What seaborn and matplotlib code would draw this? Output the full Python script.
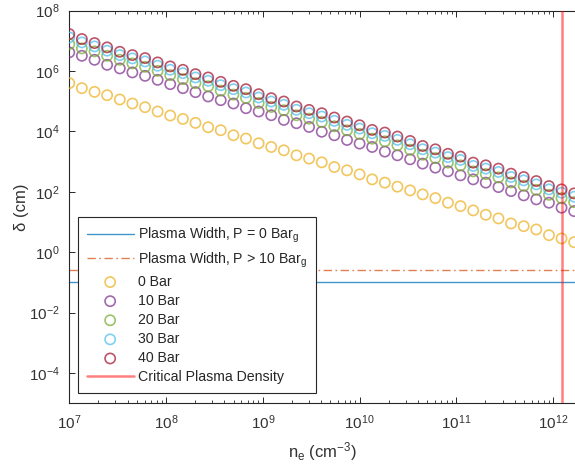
import numpy as np
import matplotlib
matplotlib.use("Agg")
import matplotlib.pyplot as plt
from matplotlib.ticker import LogLocator, NullLocator, LogFormatterSciNotation
import seaborn as sns

# electron density grid, log10(n_e / cm^-3)
log_ne = [7.000, 7.130, 7.261, 7.391, 7.522, 7.652, 7.783, 7.913, 8.043, 8.174,
          8.304, 8.435, 8.565, 8.696, 8.826, 8.957, 9.087, 9.217, 9.348, 9.478,
          9.609, 9.739, 9.870, 10.000, 10.130, 10.261, 10.391, 10.522, 10.652, 10.783,
          10.913, 11.043, 11.174, 11.304, 11.435, 11.565, 11.696, 11.826, 11.957, 12.087,
          12.217]

# log10(delta / cm) for each gas pressure
log_delta_0 = [5.595, 5.430, 5.307, 5.197, 5.055, 4.922, 4.800, 4.657, 4.524, 4.411,
               4.280, 4.136, 4.037, 3.871, 3.761, 3.605, 3.483, 3.373, 3.207, 3.098,
               2.975, 2.819, 2.710, 2.577, 2.411, 2.302, 2.169, 2.046, 1.914, 1.791,
               1.638, 1.526, 1.383, 1.240, 1.118, 0.952, 0.862, 0.753, 0.564, 0.455,
               0.332]
log_delta_10 = [6.614, 6.501, 6.368, 6.202, 6.083, 5.950, 5.837, 5.705, 5.562, 5.430,
                5.297, 5.154, 5.032, 4.922, 4.766, 4.657, 4.534, 4.378, 4.269, 4.146,
                3.987, 3.871, 3.715, 3.595, 3.483, 3.330, 3.207, 3.075, 2.932, 2.799,
                2.677, 2.544, 2.411, 2.302, 2.156, 2.023, 1.881, 1.748, 1.638, 1.473,
                1.360]
log_delta_20 = [6.889, 6.746, 6.647, 6.501, 6.368, 6.249, 6.136, 6.003, 5.861, 5.728,
                5.595, 5.494, 5.348, 5.216, 5.106, 4.940, 4.808, 4.698, 4.533, 4.420,
                4.310, 4.168, 4.035, 3.912, 3.757, 3.670, 3.538, 3.392, 3.226, 3.116,
                2.967, 2.874, 2.675, 2.586, 2.476, 2.310, 2.198, 2.065, 1.899, 1.790,
                1.657]
log_delta_30 = [7.110, 6.945, 6.812, 6.669, 6.523, 6.414, 6.314, 6.172, 6.039, 5.926,
                5.784, 5.674, 5.528, 5.396, 5.286, 5.120, 4.988, 4.878, 4.713, 4.600,
                4.490, 4.348, 4.215, 4.092, 3.937, 3.850, 3.718, 3.572, 3.406, 3.296,
                3.147, 3.054, 2.855, 2.766, 2.656, 2.490, 2.378, 2.245, 2.079, 1.970,
                1.837]
log_delta_40 = [7.221, 7.055, 6.922, 6.779, 6.633, 6.524, 6.424, 6.282, 6.149, 6.036,
                5.894, 5.784, 5.638, 5.506, 5.396, 5.230, 5.098, 4.988, 4.823, 4.710,
                4.600, 4.458, 4.325, 4.202, 4.047, 3.960, 3.828, 3.682, 3.516, 3.406,
                3.257, 3.164, 2.965, 2.876, 2.766, 2.600, 2.488, 2.355, 2.189, 2.080,
                1.947]

pressure_labels = ["0 Bar", "10 Bar", "20 Bar", "30 Bar", "40 Bar"]
pressure_colors = ["#EDB120", "#7E2F8E", "#77AC30", "#4DBEEE", "#A2142F"]

plasma_width_0 = 0.1      # cm, P = 0 Bar_g
plasma_width_10 = 0.25    # cm, P > 10 Bar_g
critical_density = 1.24e12  # cm^-3

sns.set_style("ticks")
plt.rcParams["font.family"] = ["Liberation Sans", "DejaVu Sans"]
plt.rcParams["mathtext.fontset"] = "custom"
plt.rcParams["mathtext.rm"] = "Liberation Sans"
plt.rcParams["mathtext.it"] = "Liberation Sans:italic"
plt.rcParams["mathtext.bf"] = "Liberation Sans:bold"

fig = plt.figure(figsize=(5.75, 4.73), dpi=100)
ax = fig.add_axes([0.1205, 0.1474, 0.8795, 0.8304])

ne = 10 ** np.array(log_ne)

ax.axhline(plasma_width_0, color="#0072BD", lw=1.0, alpha=0.75,
           label="Plasma Width, P = 0 Bar$_\\mathregular{g}$")
ax.axhline(plasma_width_10, color="#D95319", lw=1.0, alpha=0.75, ls=(0, (6, 2.5, 1.2, 2.5)),
           label="Plasma Width, P > 10 Bar$_\\mathregular{g}$")

for vals, lab, col in zip([log_delta_0, log_delta_10, log_delta_20, log_delta_30, log_delta_40],
                          pressure_labels, pressure_colors):
    sns.scatterplot(x=ne, y=10 ** np.array(vals), ax=ax, marker="o", s=54,
                    facecolor="none", edgecolor=col, linewidth=1.2, alpha=0.72,
                    label=lab, zorder=3)

ax.axvline(critical_density, color="#FF0000", lw=1.8, alpha=0.5,
           label="Critical Plasma Density", zorder=4)

ax.set_xscale("log")
ax.set_yscale("log")
ax.set_xlim(1e7, 10 ** 12.226)
ax.set_ylim(1e-5, 1e8)

ax.xaxis.set_major_locator(LogLocator(base=10, numticks=20))
ax.xaxis.set_minor_locator(LogLocator(base=10, subs=np.arange(2, 10), numticks=20))
ax.xaxis.set_major_formatter(LogFormatterSciNotation())
ax.set_yticks([1e-4, 1e-2, 1e0, 1e2, 1e4, 1e6, 1e8])
ax.yaxis.set_minor_locator(NullLocator())

spine_col = "#262626"
for side in ["left", "bottom", "top"]:
    ax.spines[side].set_color(spine_col)
    ax.spines[side].set_linewidth(0.8)
ax.spines["right"].set_visible(False)

ax.tick_params(which="both", direction="in", top=True, right=False,
               colors=spine_col, labelsize=11, labelcolor="#333333")
ax.tick_params(which="major", length=4.5, width=0.7, pad=7)
ax.tick_params(which="minor", length=2.5, width=0.6)

ax.set_xlabel("n$_\\mathregular{e}$ (cm$^\\mathregular{-3}$)", fontsize=12, color="#333333", labelpad=6)
ax.set_ylabel("δ (cm)", fontsize=12, color="#333333", labelpad=0)

leg = ax.legend(loc="lower left", bbox_to_anchor=(0.0172, 0.026), borderaxespad=0,
                fontsize=10.2, frameon=True, fancybox=False, edgecolor="#262626",
                framealpha=1.0, handlelength=3.3, handletextpad=0.35,
                labelspacing=0.36, borderpad=0.62)
leg.get_frame().set_linewidth(0.8)
for t in leg.get_texts():
    t.set_color("#262626")

fig.savefig("out.png", dpi=100)
